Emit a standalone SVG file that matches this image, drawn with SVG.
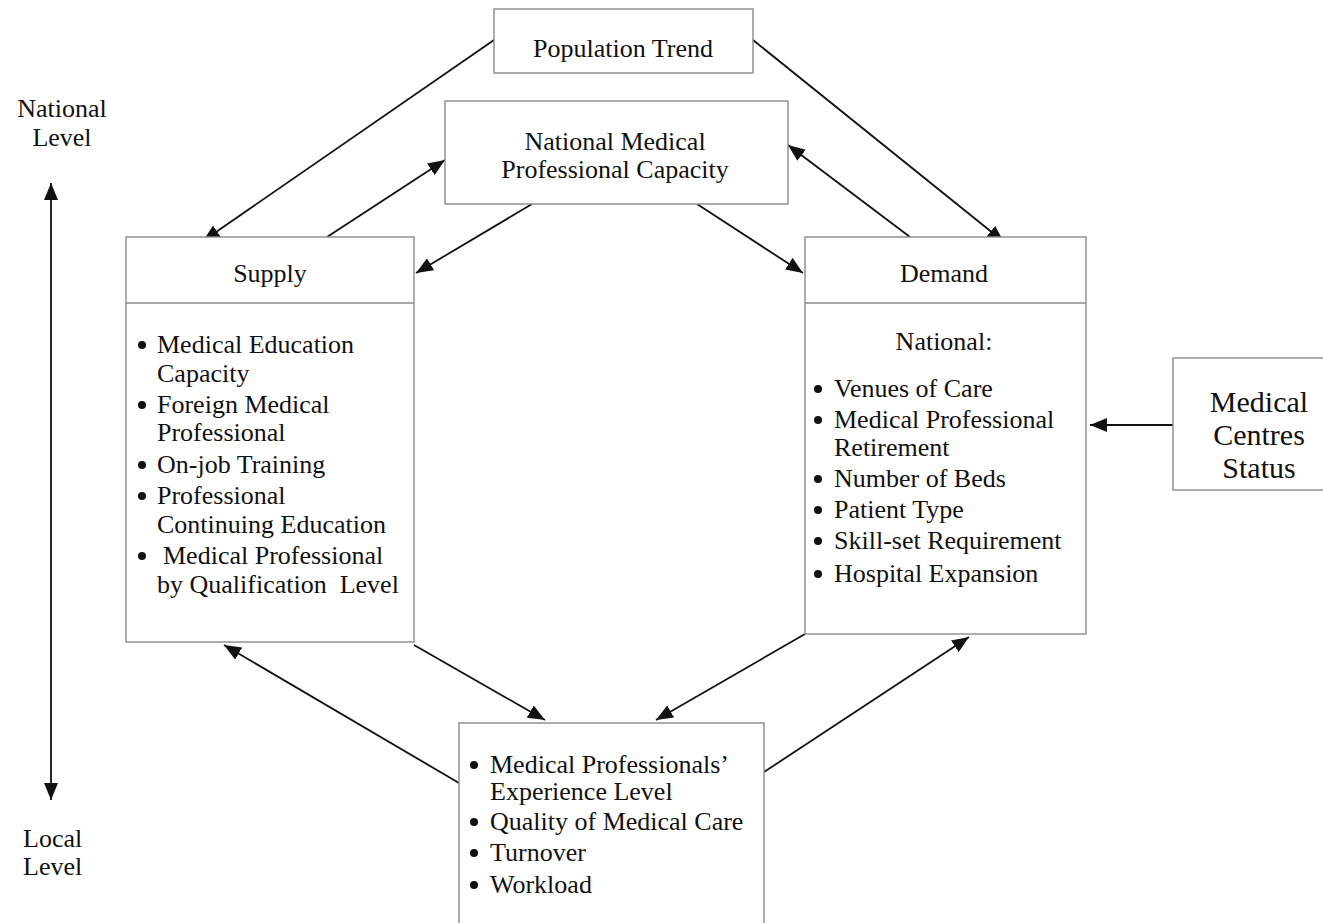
<svg xmlns="http://www.w3.org/2000/svg" width="1323" height="923" viewBox="0 0 1323 923">
<style>
.box{fill:#fff;stroke:#8a8a8a;stroke-width:1.4}
.t{font-family:"Liberation Serif","Times New Roman",serif;font-size:26px;fill:#111}
.c{text-anchor:middle}
.big{font-size:30px}
.ln{stroke:#111;stroke-width:1.8;fill:none;marker-end:url(#ah)}
.bul{fill:#111}
</style>
<defs>
<marker id="ah" markerUnits="userSpaceOnUse" markerWidth="18" markerHeight="14" refX="17" refY="7" orient="auto">
<path d="M0,0 L17,7 L0,14 Z" fill="#111"/>
</marker>
<marker id="ahs" markerUnits="userSpaceOnUse" markerWidth="18" markerHeight="14" refX="0" refY="7" orient="auto">
<path d="M17,0 L0,7 L17,14 Z" fill="#111"/>
</marker>
</defs>
<rect width="1323" height="923" fill="#fff"/>

<g id="connectors">
<line class="ln" x1="494" y1="40" x2="203" y2="241"/>
<line class="ln" x1="327" y1="237" x2="445" y2="160"/>
<line class="ln" x1="532" y1="204" x2="416" y2="273"/>
<line class="ln" x1="697" y1="204" x2="803" y2="273"/>
<line class="ln" x1="910" y1="237" x2="788" y2="145"/>
<line class="ln" x1="753" y1="40" x2="1004" y2="242"/>
<line class="ln" x1="414" y1="645" x2="545" y2="720"/>
<line class="ln" x1="805" y1="634" x2="656" y2="720"/>
<line class="ln" x1="764" y1="772" x2="969" y2="637"/>
<line class="ln" x1="459" y1="783" x2="224" y2="645"/>
<line class="ln" x1="1173" y1="425" x2="1090" y2="425"/>
<line class="ln" x1="51" y1="183" x2="51" y2="800" style="marker-start:url(#ahs)"/>
</g>

<g id="level-labels">
<text class="t c" x="62" y="117">National</text>
<text class="t c" x="62" y="146">Level</text>
<text class="t" x="23" y="847">Local</text>
<text class="t" x="23" y="875">Level</text>
</g>

<g id="population-trend">
<rect class="box" x="494" y="9" width="259" height="64"/>
<text class="t c" x="623" y="57">Population Trend</text>
</g>

<g id="national-capacity">
<rect class="box" x="445" y="101" width="343" height="103"/>
<text class="t c" x="615" y="150">National Medical</text>
<text class="t c" x="615" y="178">Professional Capacity</text>
</g>

<g id="supply">
<rect class="box" x="126" y="237" width="288" height="405"/>
<line x1="126" y1="303" x2="414" y2="303" stroke="#8a8a8a" stroke-width="1.4"/>
<text class="t c" x="270" y="282">Supply</text>
<circle class="bul" cx="142" cy="345" r="4"/>
<circle class="bul" cx="142" cy="405" r="4"/>
<circle class="bul" cx="142" cy="465" r="4"/>
<circle class="bul" cx="142" cy="496" r="4"/>
<circle class="bul" cx="142" cy="556" r="4"/>
<text class="t" x="157" y="353">Medical Education</text>
<text class="t" x="157" y="382">Capacity</text>
<text class="t" x="157" y="413">Foreign Medical</text>
<text class="t" x="157" y="441">Professional</text>
<text class="t" x="157" y="473">On-job Training</text>
<text class="t" x="157" y="504">Professional</text>
<text class="t" x="157" y="533">Continuing Education</text>
<text class="t" x="163" y="564">Medical Professional</text>
<text class="t" x="157" y="593" xml:space="preserve">by Qualification  Level</text>
</g>

<g id="demand">
<rect class="box" x="805" y="237" width="281" height="397"/>
<line x1="805" y1="303" x2="1086" y2="303" stroke="#8a8a8a" stroke-width="1.4"/>
<text class="t c" x="944" y="282">Demand</text>
<text class="t c" x="944" y="350">National:</text>
<circle class="bul" cx="818" cy="389" r="4"/>
<circle class="bul" cx="818" cy="420" r="4"/>
<circle class="bul" cx="818" cy="479" r="4"/>
<circle class="bul" cx="818" cy="510" r="4"/>
<circle class="bul" cx="818" cy="541" r="4"/>
<circle class="bul" cx="818" cy="574" r="4"/>
<text class="t" x="834" y="397">Venues of Care</text>
<text class="t" x="834" y="428">Medical Professional</text>
<text class="t" x="834" y="456">Retirement</text>
<text class="t" x="834" y="487">Number of Beds</text>
<text class="t" x="834" y="518">Patient Type</text>
<text class="t" x="834" y="549">Skill-set Requirement</text>
<text class="t" x="834" y="582">Hospital Expansion</text>
</g>

<g id="medical-centres">
<rect class="box" x="1173" y="358" width="160" height="132"/>
<text class="t c big" x="1259" y="412">Medical</text>
<text class="t c big" x="1259" y="445">Centres</text>
<text class="t c big" x="1259" y="478">Status</text>
</g>

<g id="local-factors">
<rect class="box" x="459" y="723" width="305" height="210"/>
<circle class="bul" cx="474" cy="765" r="4"/>
<circle class="bul" cx="474" cy="822" r="4"/>
<circle class="bul" cx="474" cy="853" r="4"/>
<circle class="bul" cx="474" cy="885" r="4"/>
<text class="t" x="490" y="773">Medical Professionals’</text>
<text class="t" x="490" y="800">Experience Level</text>
<text class="t" x="490" y="830">Quality of Medical Care</text>
<text class="t" x="490" y="861">Turnover</text>
<text class="t" x="490" y="893">Workload</text>
</g>
</svg>
